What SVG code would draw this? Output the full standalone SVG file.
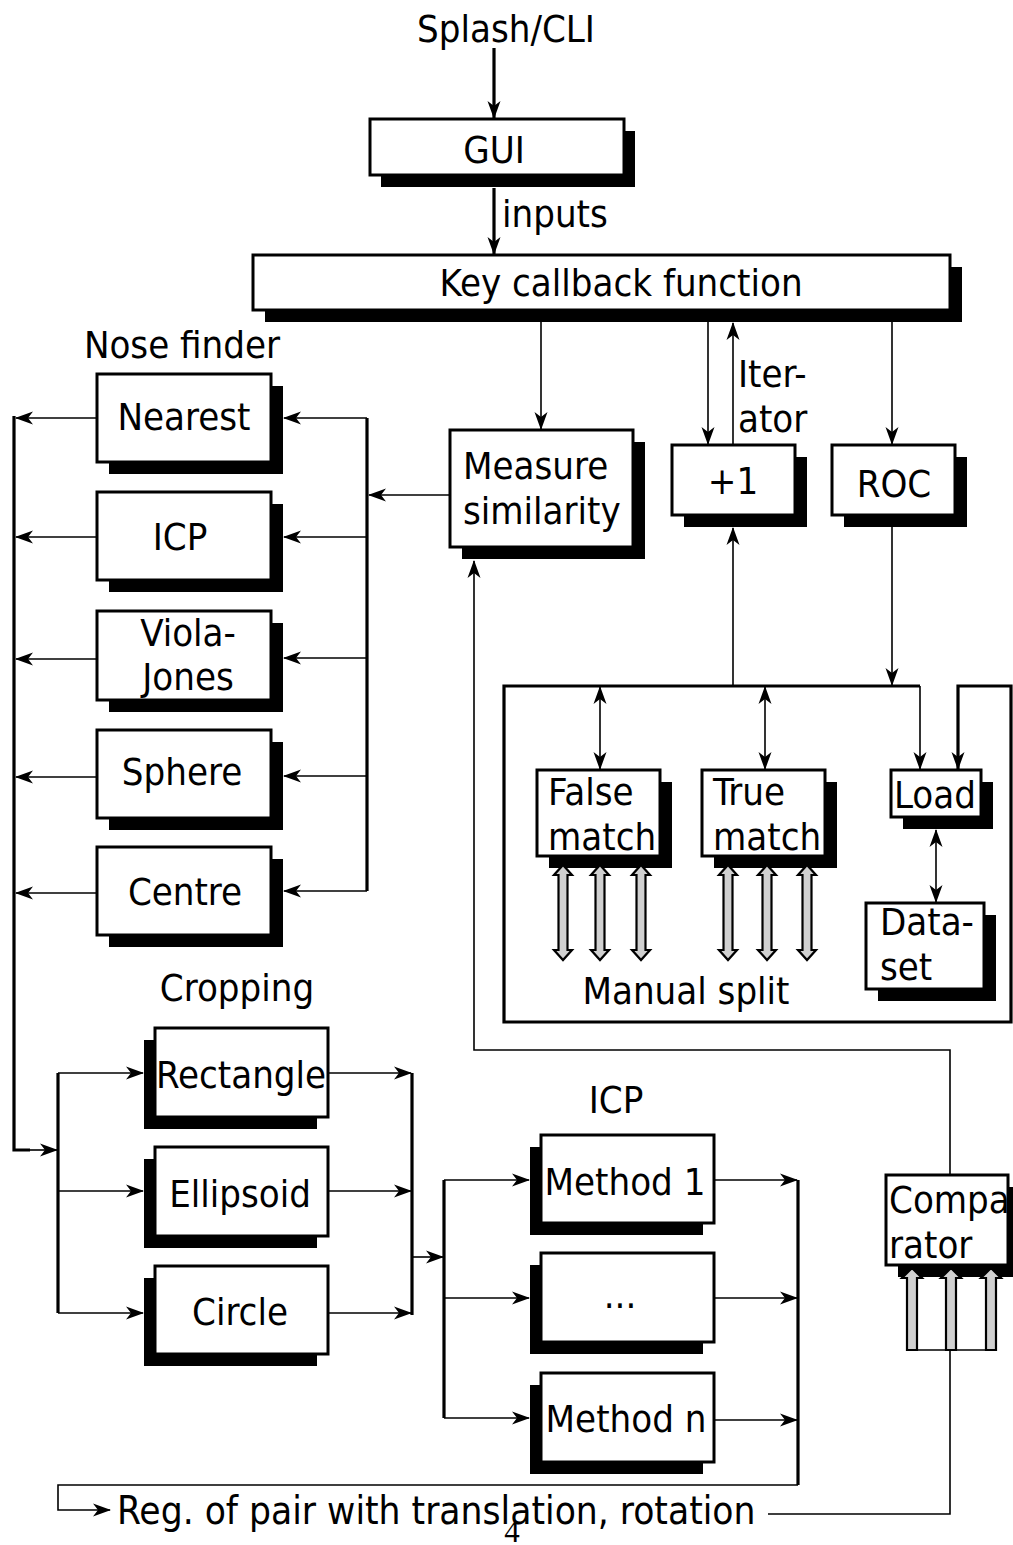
<svg xmlns="http://www.w3.org/2000/svg" width="1013" height="1545" viewBox="0 0 1013 1545">
<style>
text{font-family:"DejaVu Sans Condensed","DejaVu Sans","Liberation Sans",sans-serif;font-stretch:condensed;font-size:38px;fill:#000}
.c{text-anchor:middle}
.box{fill:#fff;stroke:#000;stroke-width:3}
.sh{fill:#000}
.thin{fill:none;stroke:#000;stroke-width:1.6}
.thick{fill:none;stroke:#000;stroke-width:3.2}
.fat{fill:#d0d0d0;stroke:#000;stroke-width:2.2}
.pg{font-family:"Liberation Serif","DejaVu Serif",serif;font-stretch:normal;font-size:31px}
</style>
<defs>
<marker id="ah" viewBox="0 0 18 14" markerWidth="18" markerHeight="14" refX="17" refY="7" orient="auto-start-reverse" markerUnits="userSpaceOnUse">
<path d="M0,0.5 L18,7 L0,13.5 L5,7 z" fill="#000"/>
</marker>
</defs>
<rect width="1013" height="1545" fill="#fff"/>

<g id="connectors">
<path class="thick" d="M494,48 V118" marker-end="url(#ah)"/>
<path class="thick" d="M494,188 V254" marker-end="url(#ah)"/>
<path class="thin" d="M541,322 V429" marker-end="url(#ah)"/>
<path class="thin" d="M708,322 V444" marker-end="url(#ah)"/>
<path class="thin" d="M733,445 V323" marker-end="url(#ah)"/>
<path class="thin" d="M892,322 V444" marker-end="url(#ah)"/>
<path class="thin" d="M892,526 V685" marker-end="url(#ah)"/>
<path class="thin" d="M733,686 V528" marker-end="url(#ah)"/>
<path class="thin" d="M450,495 H369" marker-end="url(#ah)"/>
<path class="thick" d="M367,418 V891"/>
<path class="thin" d="M367,418 H284" marker-end="url(#ah)"/>
<path class="thin" d="M367,537 H284" marker-end="url(#ah)"/>
<path class="thin" d="M367,658 H284" marker-end="url(#ah)"/>
<path class="thin" d="M367,776 H284" marker-end="url(#ah)"/>
<path class="thin" d="M367,891 H284" marker-end="url(#ah)"/>
<path class="thin" d="M97,418 H16" marker-end="url(#ah)"/>
<path class="thin" d="M97,537 H16" marker-end="url(#ah)"/>
<path class="thin" d="M97,659 H16" marker-end="url(#ah)"/>
<path class="thin" d="M97,777 H16" marker-end="url(#ah)"/>
<path class="thin" d="M97,893 H16" marker-end="url(#ah)"/>
<path class="thick" d="M14,416 V1150 H30"/>
<path class="thin" d="M28,1150 H57" marker-end="url(#ah)"/>
<path class="thick" d="M58,1073 V1313"/>
<path class="thin" d="M58,1073 H143" marker-end="url(#ah)"/>
<path class="thin" d="M58,1191 H143" marker-end="url(#ah)"/>
<path class="thin" d="M58,1313 H143" marker-end="url(#ah)"/>
<path class="thin" d="M328,1073 H411" marker-end="url(#ah)"/>
<path class="thin" d="M328,1191 H411" marker-end="url(#ah)"/>
<path class="thin" d="M328,1313 H411" marker-end="url(#ah)"/>
<path class="thick" d="M412,1073 V1315"/>
<path class="thin" d="M412,1257 H443" marker-end="url(#ah)"/>
<path class="thick" d="M444,1180 V1418"/>
<path class="thin" d="M444,1180 H529" marker-end="url(#ah)"/>
<path class="thin" d="M444,1298 H529" marker-end="url(#ah)"/>
<path class="thin" d="M444,1418 H529" marker-end="url(#ah)"/>
<path class="thin" d="M714,1180 H797" marker-end="url(#ah)"/>
<path class="thin" d="M714,1298 H797" marker-end="url(#ah)"/>
<path class="thin" d="M714,1420 H797" marker-end="url(#ah)"/>
<path class="thick" d="M798,1180 V1485"/>
<path class="thin" d="M798,1485 H58 V1510 H110" marker-end="url(#ah)"/>
<path class="thin" d="M768,1514 H950 V1350"/>
<path class="thin" d="M950,1175 V1050 H474 V561" marker-end="url(#ah)"/>
<path class="thin" d="M600,769 V687" marker-start="url(#ah)" marker-end="url(#ah)"/>
<path class="thin" d="M765,769 V687" marker-start="url(#ah)" marker-end="url(#ah)"/>
<path class="thin" d="M936,830 V902" marker-start="url(#ah)" marker-end="url(#ah)"/>
<path class="thin" d="M920,686 V769" marker-end="url(#ah)"/>
<path class="thick" d="M920,686 H504 V1022 H1011 V686 H958 V769" marker-end="url(#ah)"/>
</g>

<g id="n-splash"><text class="c" x="506" y="42">Splash/CLI</text></g>
<g id="l-inputs"><text x="502" y="227">inputs</text></g>
<g id="l-iter"><text x="738" y="387">Iter-</text><text x="738" y="432">ator</text></g>
<g id="l-nose"><text class="c" x="182" y="358">Nose finder</text></g>
<g id="l-crop"><text class="c" x="237" y="1001">Cropping</text></g>
<g id="l-icp"><text class="c" x="616" y="1113">ICP</text></g>
<g id="l-manual"><text class="c" x="686" y="1004">Manual split</text></g>
<g id="l-reg"><text x="117" y="1524" style="font-size:38.5px">Reg. of pair with translation, rotation</text></g>

<g id="n-gui"><rect class="sh" x="381" y="131" width="254" height="56"/><rect class="box" x="370" y="119" width="254" height="56"/><text class="c" x="494" y="163">GUI</text></g>
<g id="n-key"><rect class="sh" x="265" y="267" width="697" height="55"/><rect class="box" x="253" y="255" width="697" height="55"/><text class="c" x="621" y="296">Key callback function</text></g>

<g id="n-nearest"><rect class="sh" x="109" y="386" width="174" height="88"/><rect class="box" x="97" y="374" width="174" height="88"/><text class="c" x="184" y="430">Nearest</text></g>
<g id="n-icp1"><rect class="sh" x="109" y="504" width="174" height="88"/><rect class="box" x="97" y="492" width="174" height="88"/><text class="c" x="180" y="550">ICP</text></g>
<g id="n-viola"><rect class="sh" x="109" y="623" width="174" height="89"/><rect class="box" x="97" y="611" width="174" height="89"/><text class="c" x="188" y="646">Viola-</text><text class="c" x="188" y="690">Jones</text></g>
<g id="n-sphere"><rect class="sh" x="109" y="742" width="174" height="88"/><rect class="box" x="97" y="730" width="174" height="88"/><text class="c" x="182" y="785">Sphere</text></g>
<g id="n-centre"><rect class="sh" x="109" y="859" width="174" height="88"/><rect class="box" x="97" y="847" width="174" height="88"/><text class="c" x="185" y="905">Centre</text></g>

<g id="n-measure"><rect class="sh" x="462" y="442" width="183" height="117"/><rect class="box" x="450" y="430" width="183" height="117"/><text x="463" y="479">Measure</text><text x="463" y="524">similarity</text></g>
<g id="n-plus1"><rect class="sh" x="684" y="457" width="123" height="70"/><rect class="box" x="672" y="445" width="123" height="70"/><text class="c" x="733" y="494">+1</text></g>
<g id="n-roc"><rect class="sh" x="844" y="457" width="123" height="70"/><rect class="box" x="832" y="445" width="123" height="70"/><text class="c" x="894" y="497">ROC</text></g>

<g id="n-false"><rect class="sh" x="549" y="782" width="123" height="86"/><rect class="box" x="537" y="770" width="123" height="86"/><text x="548" y="805">False</text><text x="548" y="850">match</text>
<path class="fat" d="M563,865 l9,10 h-4.5 v75 h4.5 l-9,10 l-9,-10 h4.5 v-75 h-4.5 z"/>
<path class="fat" d="M600,865 l9,10 h-4.5 v75 h4.5 l-9,10 l-9,-10 h4.5 v-75 h-4.5 z"/>
<path class="fat" d="M641,865 l9,10 h-4.5 v75 h4.5 l-9,10 l-9,-10 h4.5 v-75 h-4.5 z"/></g>
<g id="n-true"><rect class="sh" x="714" y="782" width="123" height="86"/><rect class="box" x="702" y="770" width="123" height="86"/><text x="713" y="805">True</text><text x="713" y="850">match</text>
<path class="fat" d="M728,865 l9,10 h-4.5 v75 h4.5 l-9,10 l-9,-10 h4.5 v-75 h-4.5 z"/>
<path class="fat" d="M767,865 l9,10 h-4.5 v75 h4.5 l-9,10 l-9,-10 h4.5 v-75 h-4.5 z"/>
<path class="fat" d="M807,865 l9,10 h-4.5 v75 h4.5 l-9,10 l-9,-10 h4.5 v-75 h-4.5 z"/></g>
<g id="n-load"><rect class="sh" x="903" y="782" width="90" height="47"/><rect class="box" x="891" y="770" width="90" height="47"/><text x="894" y="808">Load</text></g>
<g id="n-dataset"><rect class="sh" x="878" y="915" width="118" height="86"/><rect class="box" x="866" y="903" width="118" height="86"/><text x="880" y="935">Data-</text><text x="880" y="980">set</text></g>

<g id="n-rect"><rect class="sh" x="144" y="1040" width="173" height="89"/><rect class="box" x="155" y="1028" width="173" height="89"/><text class="c" x="241" y="1088">Rectangle</text></g>
<g id="n-ellipsoid"><rect class="sh" x="144" y="1159" width="173" height="89"/><rect class="box" x="155" y="1147" width="173" height="89"/><text class="c" x="240" y="1207">Ellipsoid</text></g>
<g id="n-circle"><rect class="sh" x="144" y="1278" width="173" height="88"/><rect class="box" x="155" y="1266" width="173" height="88"/><text class="c" x="240" y="1325">Circle</text></g>

<g id="n-m1"><rect class="sh" x="530" y="1147" width="173" height="88"/><rect class="box" x="541" y="1135" width="173" height="88"/><text class="c" x="625" y="1195">Method 1</text></g>
<g id="n-mdots"><rect class="sh" x="530" y="1265" width="173" height="89"/><rect class="box" x="541" y="1253" width="173" height="89"/><text class="c" x="620" y="1308">...</text></g>
<g id="n-mn"><rect class="sh" x="530" y="1385" width="173" height="89"/><rect class="box" x="541" y="1373" width="173" height="89"/><text class="c" x="626" y="1432">Method n</text></g>

<g id="n-comparator"><rect class="sh" x="898" y="1187" width="122" height="90"/><rect class="box" x="886" y="1175" width="122" height="90"/><text x="889" y="1213">Compa</text><text x="889" y="1258">rator</text>
<path class="fat" d="M912,1268 l10,10 h-5 v72 h-10 v-72 h-5 z"/>
<path class="fat" d="M951,1268 l10,10 h-5 v72 h-10 v-72 h-5 z"/>
<path class="fat" d="M991,1268 l10,10 h-5 v72 h-10 v-72 h-5 z"/>
<path class="thin" d="M907,1350 H996"/></g>

<text class="pg c" x="512" y="1542">4</text>
</svg>
